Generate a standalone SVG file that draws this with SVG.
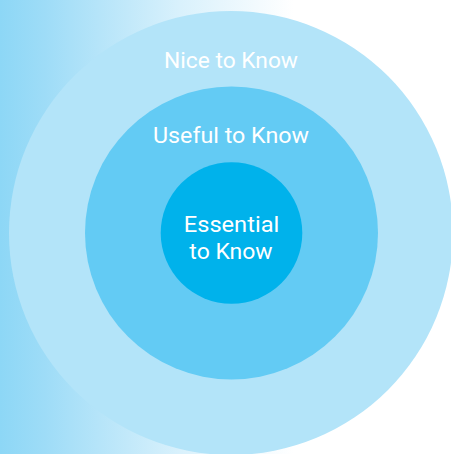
<svg xmlns="http://www.w3.org/2000/svg" width="451" height="454" viewBox="0 0 451 454">
<defs>
<linearGradient id="bg" x1="0" y1="0" x2="1" y2="0">
<stop offset="0" stop-color="#8dd7f6"/>
<stop offset="0.1" stop-color="#9edcf7"/>
<stop offset="0.4" stop-color="#d9f1fc"/>
<stop offset="0.65" stop-color="#ffffff"/>
<stop offset="1" stop-color="#ffffff"/>
</linearGradient>
<style>
.lbl{font-family:Roboto,"Liberation Sans",sans-serif;font-size:22px;fill:#ffffff;text-anchor:middle;font-weight:400}
</style>
</defs>
<rect x="0" y="0" width="451" height="454" fill="url(#bg)"/>
<g id="nice">
<circle cx="231" cy="233" r="222" fill="#b3e4f9"/>
<text class="lbl" x="231" y="68.3" textLength="134" lengthAdjust="spacingAndGlyphs">Nice to Know</text>
</g>
<g id="useful">
<circle cx="231.5" cy="233" r="146.5" fill="#63cbf4"/>
<text class="lbl" x="231" y="143.3" textLength="156" lengthAdjust="spacingAndGlyphs">Useful to Know</text>
</g>
<g id="essential">
<circle cx="231.5" cy="233" r="70.8" fill="#00b2eb"/>
<text class="lbl" x="231.5" y="232.3" textLength="95.5" lengthAdjust="spacingAndGlyphs">Essential</text>
<text class="lbl" x="231" y="259.3" textLength="83.3" lengthAdjust="spacingAndGlyphs">to Know</text>
</g>
<g id="connectors"/>
</svg>
